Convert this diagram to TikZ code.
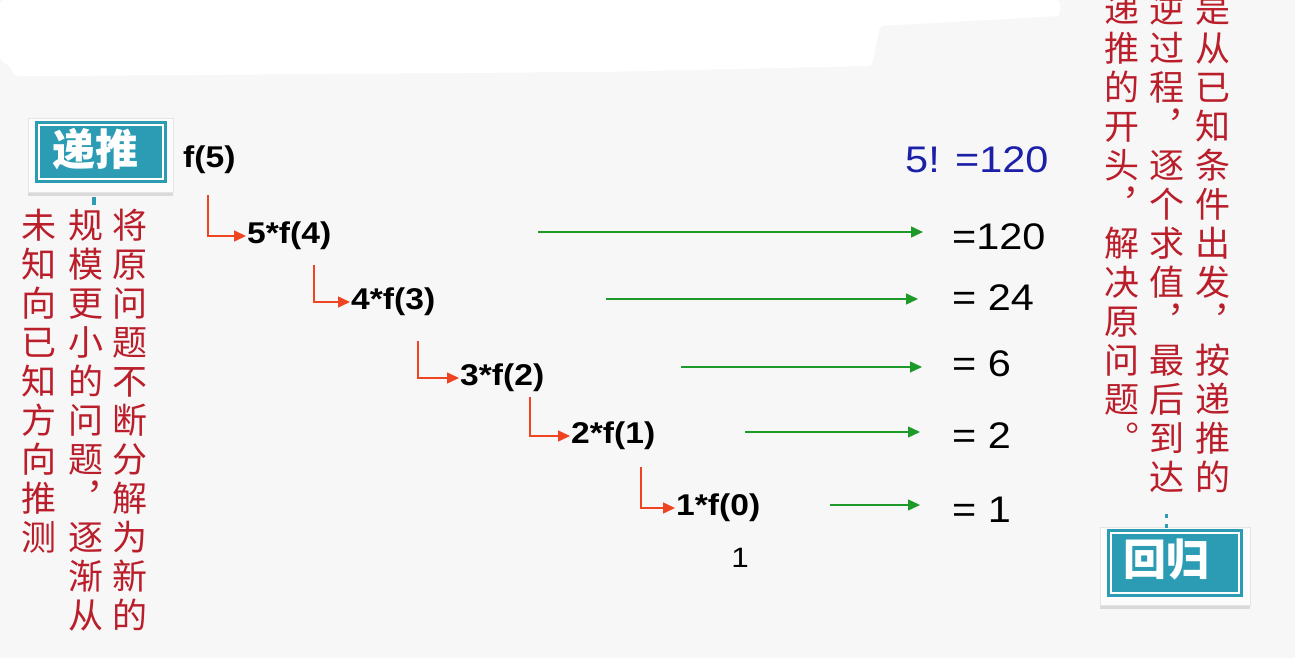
\documentclass[tikz,border=0pt]{standalone}
\usepackage{fontspec}
\setmainfont{Liberation Sans}
\newfontfamily\cjk{Noto Sans CJK SC}
\newfontfamily\widefont{Liberation Sans}[FakeStretch=1.12]
\usetikzlibrary{arrows.meta,shadows}
\definecolor{bgc}{HTML}{F7F7F7}
\definecolor{tealc}{HTML}{2B9CB4}
\definecolor{vredc}{HTML}{BA1E2A}
\definecolor{lredc}{HTML}{EE4422}
\definecolor{lgreenc}{HTML}{1E9A28}
\definecolor{nbluec}{HTML}{1C20A8}
\newcommand\mycolumn[4]{\foreach \ch [count=\i from 0] in {#4} {\node[vch] (#1-\i) at (#2,#3+39*\i) {\ch};}}
\begin{document}
\begin{tikzpicture}[x=1pt,y=-1pt,
  vch/.style={text=vredc, font=\cjk\fontsize{35}{35}\selectfont, inner sep=0pt, text height=0.88em, text depth=0.12em, anchor=center},
  expr/.style={font=\widefont\bfseries\fontsize{30}{30}\selectfont, inner sep=1pt, anchor=west},
  val/.style={font=\widefont\fontsize{37}{37}\selectfont, inner sep=0pt, anchor=west},
  redarr/.style={draw=lredc, line width=1.5pt, -{Triangle[length=12pt,width=11pt]}},
  greenarr/.style={draw=lgreenc, line width=1.4pt, -{Triangle[length=12pt,width=11pt]}},
  framebox/.style={fill=white!60!bgc, draw=black!10, line width=0.5pt, inner sep=0pt, drop shadow={shadow xshift=0pt, shadow yshift=-4pt, opacity=0.25}},
  tealbox/.style={fill=tealc, inner sep=0pt},
  boxtext/.style={text=white, font=\cjk\bfseries\fontsize{43}{43}\selectfont, inner sep=0pt},
  innerline/.style={draw=white, line width=1.6pt}
]
\path[use as bounding box, fill=bgc] (0,0) rectangle (1295,658);
% white smear at top
\fill[white, rounded corners=4pt] (0,0) -- (1060,0) -- (1060,16) -- (880,26) -- (872,66) -- (600,72) -- (60,76) -- (14,76) -- (10,66) -- (0,60) -- cycle;

% left box
\node[framebox, minimum width=145pt, minimum height=74pt] (dtf) at (100.5,155) {};
\node[tealbox, minimum width=132pt, minimum height=62pt] (dt) at (101,152) {};
\draw[innerline] ([shift={(4pt,4pt)}]dt.south west) rectangle ([shift={(-4pt,-4pt)}]dt.north east);
\node[boxtext] (dtt) at (95,149) {递推};
\fill[tealc] (92,197) rectangle (96,205);

% right box
\node[framebox, minimum width=150pt, minimum height=78pt] (hgf) at (1175,566) {};
\node[tealbox, minimum width=136pt, minimum height=68pt] (hg) at (1175,563) {};
\draw[innerline] ([shift={(4pt,4pt)}]hg.south west) rectangle ([shift={(-4pt,-4pt)}]hg.north east);
\node[boxtext] (hgt) at (1166,560) {回归};
\fill[tealc] (1165,514) rectangle (1168,518);
\fill[tealc] (1165,524) rectangle (1168,528);

% vertical texts
\mycolumn{la}{130}{235}{将,原,问,题,不,断,分,解,为,新,的}
\mycolumn{lb}{86}{235}{规,模,更,小,的,问,题,︐,逐,渐,从}
\mycolumn{lc}{39}{235}{未,知,向,已,知,方,向,推,测}
\mycolumn{rd}{1213}{19}{是,从,已,知,条,件,出,发,︐,按,递,推,的}
\mycolumn{re}{1167}{19}{逆,过,程,︐,逐,个,求,值,︐,最,后,到,达}
\mycolumn{rf}{1122}{19}{递,推,的,开,头,︐,解,决,原,问,题,︒}

% expressions
\node[expr] (e5) at (182,160) {f(5)};
\node[expr] (e4) at (246,236) {5*f(4)};
\node[expr] (e3) at (350,302) {4*f(3)};
\node[expr] (e2) at (459,378) {3*f(2)};
\node[expr] (e1) at (570,436) {2*f(1)};
\node[expr] (e0) at (675,508) {1*f(0)};
\node[font=\widefont\fontsize{28}{28}\selectfont, inner sep=0pt] (one) at (740,558) {1};

% red L connectors
\coordinate (r1) at (208,195);
\coordinate (r2) at (314,265);
\coordinate (r3) at (418,341);
\coordinate (r4) at (530,397);
\coordinate (r5) at (641,467);
\draw[redarr] (r1) |- (e4.west);
\draw[redarr] (r2) |- (e3.west);
\draw[redarr] (r3) |- (e2.west);
\draw[redarr] (r4) |- (e1.west);
\draw[redarr] (r5) |- (e0.west);

% values
\node[val, text=nbluec] (v6) at (905,160) {5! =120};
\node[val] (v5) at (952,237) {=120};
\node[val] (v4) at (952,298) {= 24};
\node[val] (v3) at (952,364) {= 6};
\node[val] (v2) at (952,436) {= 2};
\node[val] (v1) at (952,510) {= 1};

% green arrows
\coordinate (g5s) at (538,232); \coordinate (g5e) at (923,232);
\coordinate (g4s) at (606,299); \coordinate (g4e) at (918,299);
\coordinate (g3s) at (681,367); \coordinate (g3e) at (922,367);
\coordinate (g2s) at (745,432); \coordinate (g2e) at (920,432);
\coordinate (g1s) at (830,505); \coordinate (g1e) at (920,505);
\draw[greenarr] (g5s) -- (g5e);
\draw[greenarr] (g4s) -- (g4e);
\draw[greenarr] (g3s) -- (g3e);
\draw[greenarr] (g2s) -- (g2e);
\draw[greenarr] (g1s) -- (g1e);
\end{tikzpicture}
\end{document}
